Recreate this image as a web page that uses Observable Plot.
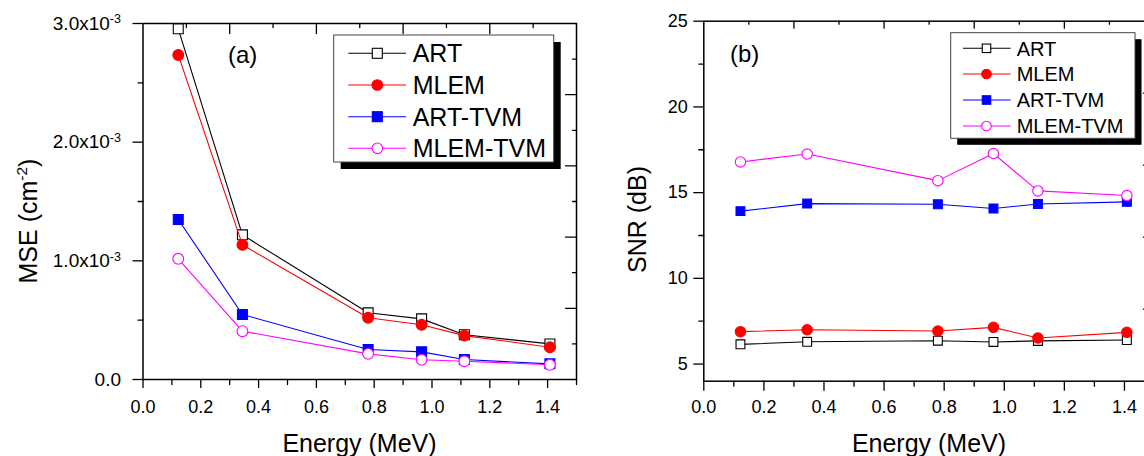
<!DOCTYPE html>
<html><head><meta charset="utf-8">
<script src="https://cdn.jsdelivr.net/npm/d3@7"></script>
<script src="https://cdn.jsdelivr.net/npm/@observablehq/plot@0.6"></script>
<style>
html,body{margin:0;padding:0;overflow:hidden;background:#fff;width:1144px;height:456px}
#wrap{display:flex;width:1160px;height:456px}
#wrap svg{display:block;flex:none}
</style></head><body><div id="wrap"></div>
<script>
// ---- data ----
const energies = [0.122, 0.344, 0.779, 0.964, 1.112, 1.408];
const methods = ["ART", "MLEM", "ART-TVM", "MLEM-TVM"];
const mseART     = [2.955e-3, 1.219e-3, 0.562e-3, 0.511e-3, 0.377e-3, 0.300e-3];
const mseMLEM    = [2.735e-3, 1.135e-3, 0.520e-3, 0.461e-3, 0.370e-3, 0.272e-3];
const mseARTTVM  = [1.348e-3, 0.548e-3, 0.253e-3, 0.233e-3, 0.168e-3, 0.132e-3];
const mseMLEMTVM = [1.017e-3, 0.407e-3, 0.216e-3, 0.166e-3, 0.154e-3, 0.124e-3];
const snrART     = [6.15, 6.30, 6.36, 6.29, 6.35, 6.40];
const snrMLEM    = [6.89, 7.00, 6.93, 7.14, 6.52, 6.85];
const snrARTTVM  = [13.92, 14.36, 14.32, 14.07, 14.34, 14.46];
const snrMLEMTVM = [16.79, 17.25, 15.70, 17.28, 15.10, 14.83];

// ---- tick values ----
const xMajor = [0, 0.2, 0.4, 0.6, 0.8, 1.0, 1.2, 1.4];
const xMinor = [0.1, 0.3, 0.5, 0.7, 0.9, 1.1, 1.3, 1.5];
const topLong = [0.3, 0.6, 0.9, 1.2];
const topShort = [0.15, 0.45, 0.75, 1.05, 1.35];
const mseMajor = [0, 1e-3, 2e-3, 3e-3];
const mseMinor = [0.5e-3, 1.5e-3, 2.5e-3];
const mseRightLong = [2.4e-3, 1.8e-3, 1.2e-3, 0.6e-3];
const mseRightShort = [2.7e-3, 2.1e-3, 1.5e-3, 0.9e-3, 0.3e-3];
const snrMajor = [5, 10, 15, 20, 25];
const snrMinor = [7.5, 12.5, 17.5, 22.5];
const snrRightLong = [20.8, 16.6, 12.4, 8.2];
const snrRightShort = [22.9, 18.7, 14.5, 10.3, 6.1];

// ---- styles ----
const styles = {
  "ART":      {color: "#000000", symbol: "square", fill: "white"},
  "MLEM":     {color: "#ff0000", symbol: "circle", fill: "#ff0000"},
  "ART-TVM":  {color: "#0000ff", symbol: "square", fill: "#0000ff"},
  "MLEM-TVM": {color: "#ff00ff", symbol: "circle", fill: "white"}
};
const FONT = "'Liberation Sans', Arial, Helvetica, sans-serif";

const tickDown = {draw(c, l) { c.moveTo(0, 0); c.lineTo(0, l); }};
const tickLeft = {draw(c, l) { c.moveTo(0, 0); c.lineTo(-l, 0); }};

function tidy(seriesArrays) {
  const rows = [];
  methods.forEach((m, j) => energies.forEach((e, i) => rows.push({method: m, energy: e, value: seriesArrays[j][i]})));
  return rows;
}

function seriesMarks(rows, sq, cr) {
  const marks = [];
  for (const m of methods) {
    const s = styles[m];
    const d = rows.filter(r => r.method === m);
    marks.push(Plot.line(d, {x: "energy", y: "value", stroke: s.color, strokeWidth: 1.1}));
    marks.push(Plot.dot(d, {x: "energy", y: "value", symbol: s.symbol, r: s.symbol === "square" ? sq : cr,
      fill: s.fill, stroke: s.color, strokeWidth: 1.1}));
  }
  return marks;
}

function supText(svg) {
  d3.select(svg).selectAll("text").each(function() {
    const t = this.textContent;
    if (t.includes("^")) {
      const [a, b] = t.split("^");
      const s = d3.select(this);
      s.text(a);
      s.append("tspan").attr("dy", "-0.5em").attr("font-size", "0.66em").text(b);
    }
  });
}

function drawLegend(svg, L) {
  const g = d3.select(svg).append("g").attr("font-family", FONT).attr("text-anchor", "start");
  g.append("rect").attr("x", L.x + L.sh).attr("y", L.y + L.sh).attr("width", L.w).attr("height", L.h).attr("fill", "black");
  g.append("rect").attr("x", L.x).attr("y", L.y).attr("width", L.w).attr("height", L.h)
    .attr("fill", "white").attr("stroke", "#444").attr("stroke-width", 1);
  methods.forEach((m, i) => {
    const s = styles[m], y = L.rows[i];
    g.append("line").attr("x1", L.l1).attr("x2", L.l2).attr("y1", y).attr("y2", y).attr("stroke", s.color).attr("stroke-width", 1.1);
    if (s.symbol === "square") {
      g.append("rect").attr("x", L.mx - L.sq / 2).attr("y", y - L.sq / 2).attr("width", L.sq).attr("height", L.sq)
        .attr("fill", s.fill).attr("stroke", s.color).attr("stroke-width", 1.1);
    } else {
      g.append("circle").attr("cx", L.mx).attr("cy", y).attr("r", L.cr)
        .attr("fill", s.fill).attr("stroke", s.color).attr("stroke-width", 1.1);
    }
    g.append("text").attr("x", L.tx).attr("y", y).attr("dy", "0.36em").attr("text-anchor", "start")
      .attr("font-size", L.fs).attr("fill", "black").text(m);
  });
}

function addText(svg, {x, y, text, size, anchor = "middle", rotate = 0, parts = null}) {
  const t = d3.select(svg).append("text")
    .attr("transform", `translate(${x},${y}) rotate(${rotate})`)
    .attr("text-anchor", anchor).attr("font-family", FONT).attr("font-size", size).attr("fill", "black");
  if (parts) {
    for (const p of parts) {
      const ts = t.append("tspan").text(p.t);
      if (p.sup) ts.attr("font-size", size * 0.62).attr("dy", -size * 0.42);
      if (p.back) ts.attr("dy", size * 0.42);
    }
  } else t.text(text);
  return t;
}

function makePanel(cfg) {
  const svg = Plot.plot({
    width: 580, height: 456,
    marginLeft: cfg.ml, marginRight: cfg.mr, marginTop: cfg.mt, marginBottom: cfg.mb,
    style: {fontFamily: FONT, fontSize: "18px", color: "black", background: "white", overflow: "visible"},
    x: {domain: [0, 1.5], label: null},
    y: {domain: cfg.yDomain, label: null, nice: false},
    marks: [
      Plot.frame({stroke: "black", strokeWidth: 1.5}),
      Plot.axisX(xMajor, {tickSize: cfg.tickMajor, tickPadding: cfg.xPad, tickFormat: d => d.toFixed(1), label: null, strokeWidth: 1.3}),
      Plot.vectorX(xMinor, {frameAnchor: "bottom", length: cfg.tickMinor, shape: tickDown, anchor: "start", stroke: "black", strokeWidth: 1.3}),
      Plot.vectorX(topLong, {frameAnchor: "top", length: cfg.topLongLen, shape: tickDown, anchor: "start", stroke: "black", strokeWidth: 1.3}),
      Plot.vectorX(topShort, {frameAnchor: "top", length: cfg.topShortLen, shape: tickDown, anchor: "start", stroke: "black", strokeWidth: 1.3}),
      Plot.axisY(cfg.yMajor, {tickSize: 10, tickPadding: cfg.yPad, tickFormat: cfg.yFormat, label: null, strokeWidth: 1.3, fontSize: cfg.yFont}),
      Plot.vectorY(cfg.yMinor, {frameAnchor: "left", length: 5, shape: tickLeft, anchor: "start", stroke: "black", strokeWidth: 1.3}),
      Plot.vectorY(cfg.rightLong, {frameAnchor: "right", length: 11, shape: tickLeft, anchor: "start", stroke: "black", strokeWidth: 1.3}),
      Plot.vectorY(cfg.rightShort, {frameAnchor: "right", length: 4, shape: tickLeft, anchor: "start", stroke: "black", strokeWidth: 1.3}),
      ...seriesMarks(tidy(cfg.series), cfg.sq, cfg.cr)
    ]
  });
  supText(svg);
  return svg;
}

const wrap = document.getElementById("wrap");

// Panel (a)
const svgA = makePanel({
  ml: 142.5, mr: 4, mt: 23, mb: 77,
  yDomain: [0, 3e-3], yMajor: mseMajor, yMinor: mseMinor,
  yFormat: d => d === 0 ? "0.0" : (d * 1e3).toFixed(1) + "x10^-3", yFont: 19,
  rightLong: mseRightLong, rightShort: mseRightShort,
  tickMajor: 9, tickMinor: 5, xPad: 12, yPad: 12, topLongLen: 10, topShortLen: 4,
  series: [mseART, mseMLEM, mseARTTVM, mseMLEMTVM], sq: 5.6, cr: 5.4
});
addText(svgA, {x: 359.5, y: 451.5, text: "Energy (MeV)", size: 25});
addText(svgA, {x: 37, y: 221, size: 25, rotate: -90, parts: [{t: "MSE (cm"}, {t: "-2", sup: true}, {t: ")", back: true}]});
addText(svgA, {x: 228, y: 63, text: "(a)", size: 24, anchor: "start"});
drawLegend(svgA, {x: 333.7, y: 35, w: 220, h: 127, sh: 7, rows: [53.3, 85, 116.7, 148.3],
  l1: 348.3, l2: 406, mx: 377.3, tx: 412.7, fs: 25, sq: 10, cr: 5.3});
wrap.appendChild(svgA);

// Panel (b)
const svgB = makePanel({
  ml: 123.3, mr: 6, mt: 20.7, mb: 75.3,
  yDomain: [4, 25], yMajor: snrMajor, yMinor: snrMinor,
  yFormat: d => String(d), yFont: 18,
  rightLong: snrRightLong, rightShort: snrRightShort,
  tickMajor: 10, tickMinor: 5, xPad: 9, yPad: 6, topLongLen: 7, topShortLen: 3,
  series: [snrART, snrMLEM, snrARTTVM, snrMLEMTVM], sq: 5, cr: 5.2
});
addText(svgB, {x: 349, y: 451.5, text: "Energy (MeV)", size: 25});
addText(svgB, {x: 66, y: 219.5, text: "SNR (dB)", size: 25, rotate: -90});
addText(svgB, {x: 150, y: 62, text: "(b)", size: 24, anchor: "start"});
drawLegend(svgB, {x: 370.7, y: 32.7, w: 184.3, h: 105.6, sh: 6.5, rows: [48.3, 74, 100, 126],
  l1: 383, l2: 430.6, mx: 406.5, tx: 436.7, fs: 20, sq: 8.5, cr: 4.8});
wrap.appendChild(svgB);
</script>
</body></html>
